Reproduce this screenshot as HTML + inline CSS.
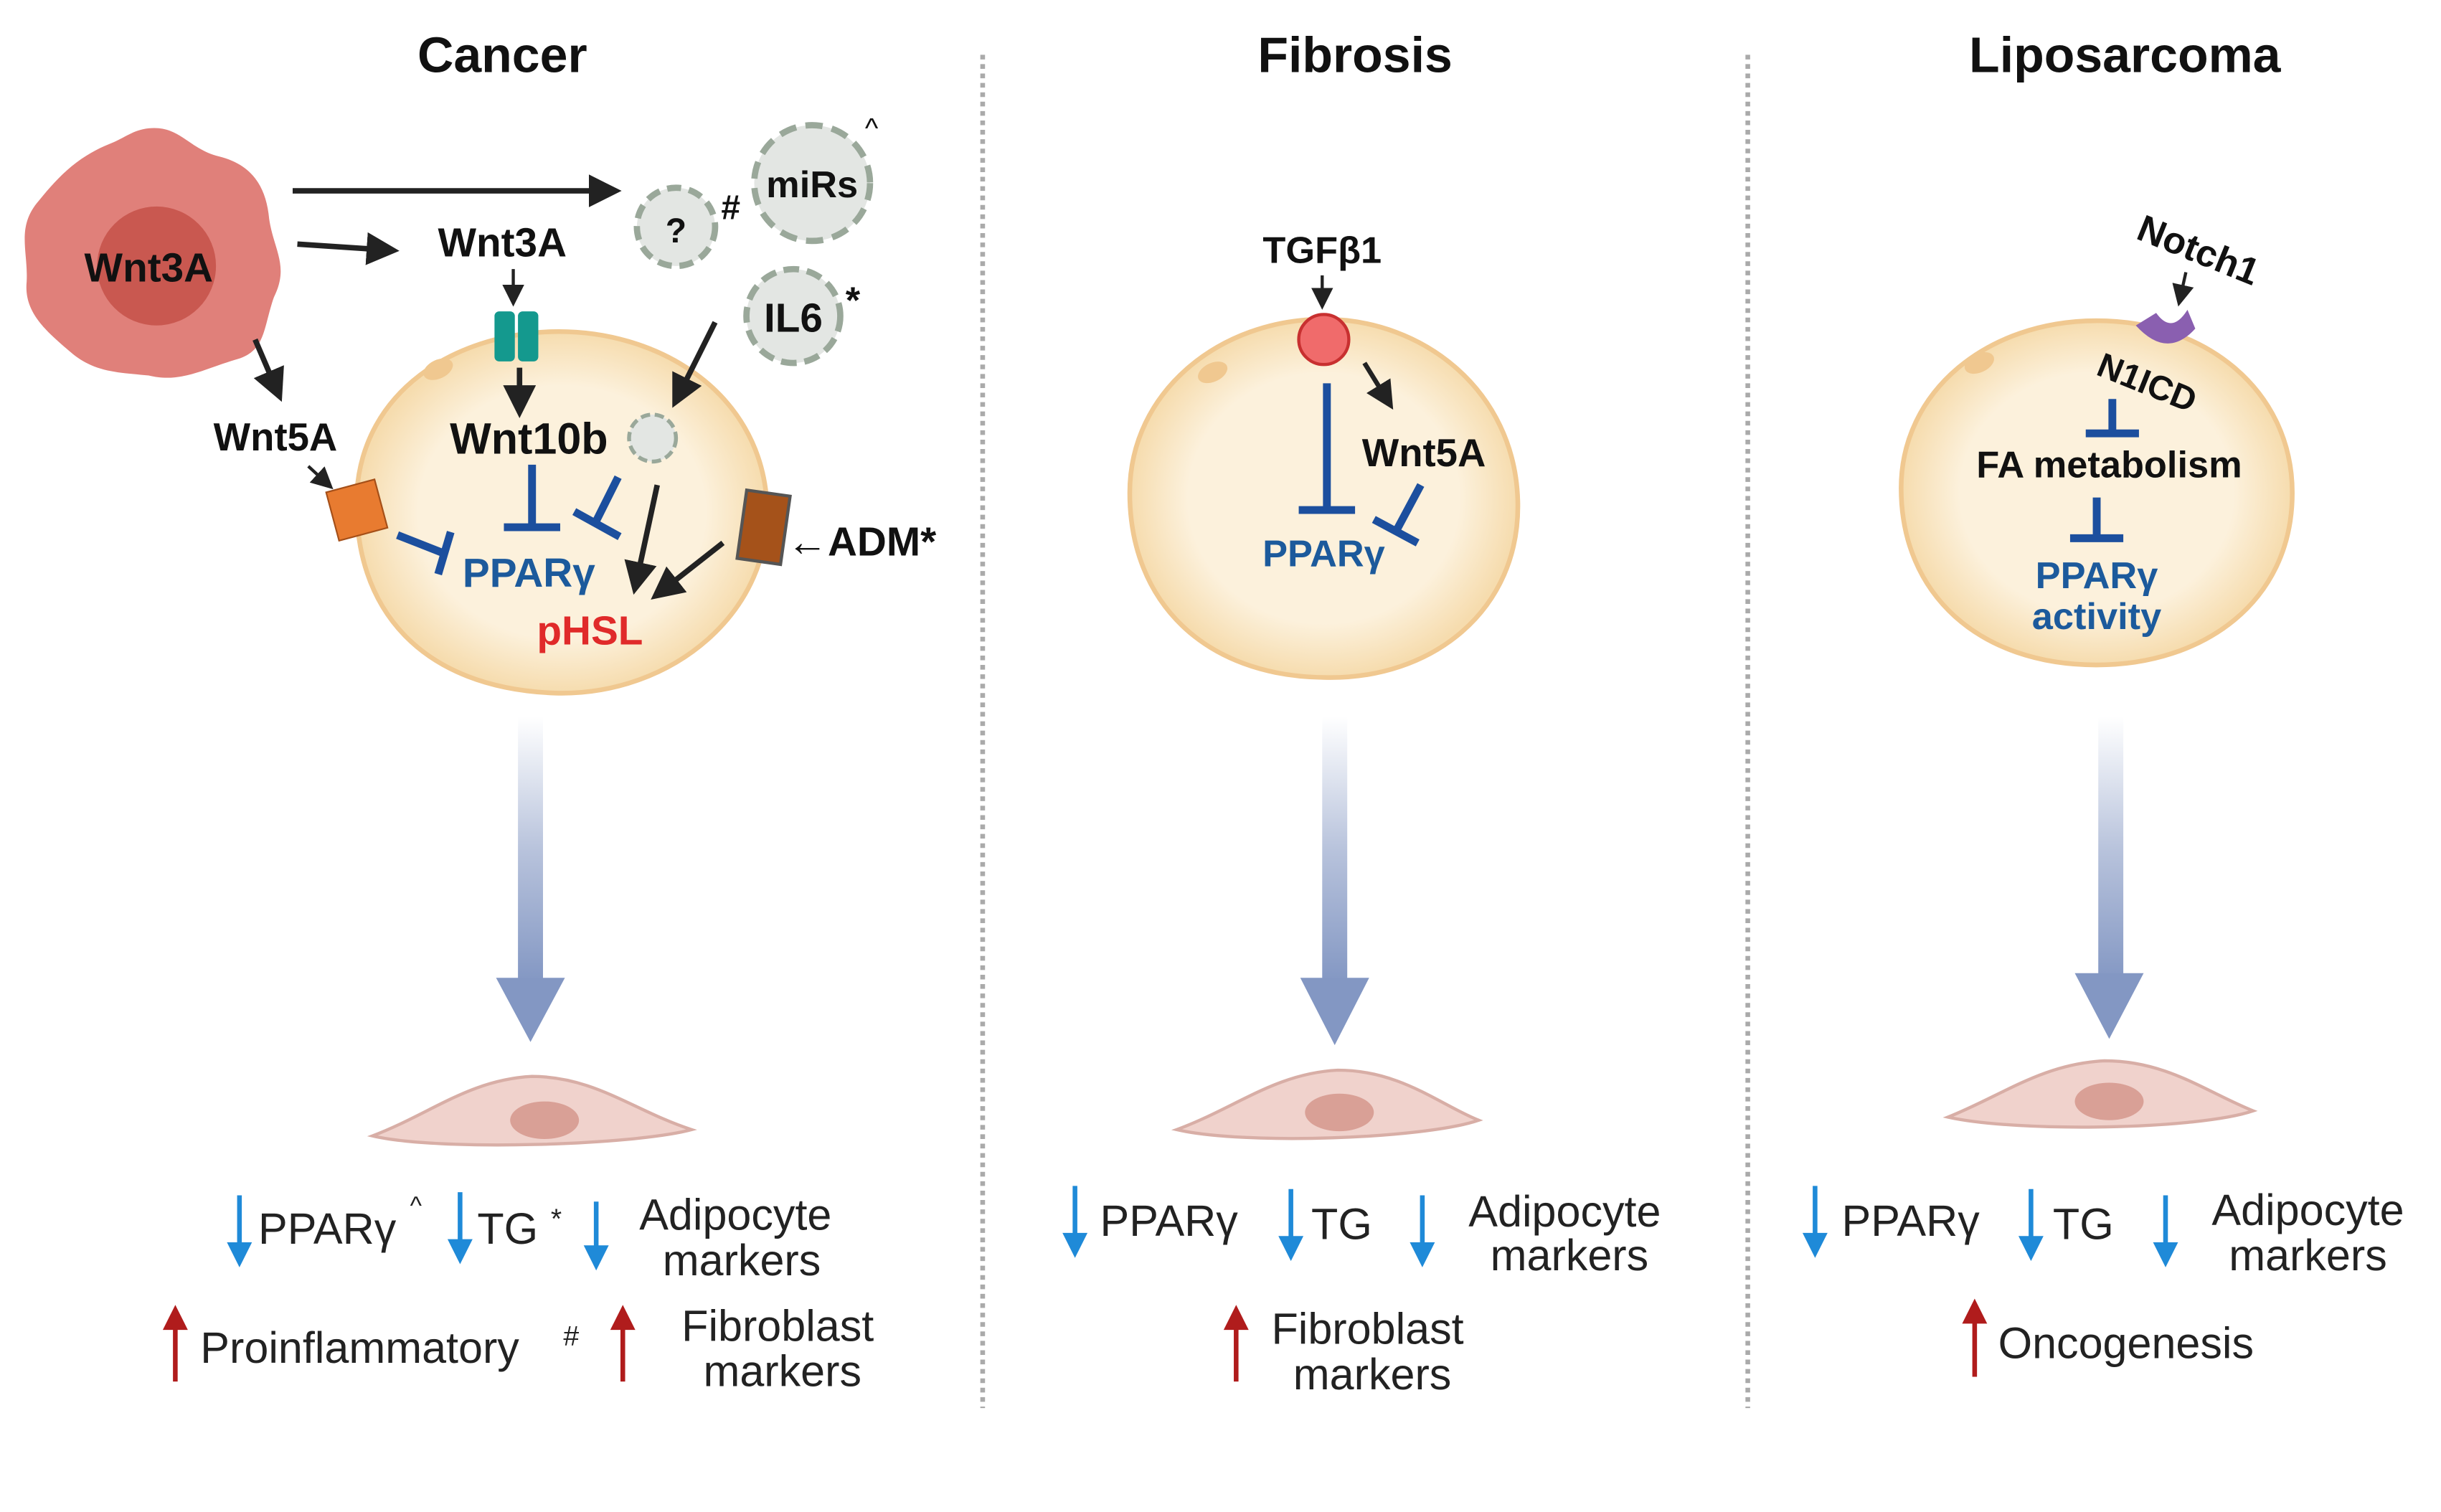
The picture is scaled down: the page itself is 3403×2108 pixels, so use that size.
<!DOCTYPE html>
<html><head><meta charset="utf-8"><style>
html,body{margin:0;padding:0;background:#fff}
svg{display:block}
text{font-family:"Liberation Sans",Arial,sans-serif}
</style></head><body>
<svg width="3403" height="2108" viewBox="0 0 1560 966.4" xmlns="http://www.w3.org/2000/svg">
<defs>
<marker id="ah" markerWidth="6" markerHeight="6" refX="4.5" refY="3" orient="auto" markerUnits="strokeWidth"><path d="M0,0 L6,3 L0,6 z" fill="#222"/></marker>
<marker id="ahs" markerWidth="7" markerHeight="7" refX="5" refY="3.5" orient="auto" markerUnits="strokeWidth"><path d="M0,0 L7,3.5 L0,7 z" fill="#222"/></marker>
<linearGradient id="g" x1="0" y1="0" x2="0" y2="1"><stop offset="0" stop-color="#fff"/><stop offset="0.5" stop-color="#b8c3dc"/><stop offset="1" stop-color="#8397c3"/></linearGradient>
<radialGradient id="cell" cx="0.5" cy="0.5" r="0.5"><stop offset="0.7" stop-color="#fcf1dc"/><stop offset="1" stop-color="#f6dcae"/></radialGradient>
</defs>
<rect width="1560" height="966.4" fill="#fff"/>
<g font-weight="bold" font-size="32" text-anchor="middle" fill="#111">
<text x="321" y="46">Cancer</text><text x="866" y="46">Fibrosis</text><text x="1358" y="46">Liposarcoma</text></g>
<line x1="628" y1="35" x2="628" y2="900" stroke="#aaa" stroke-width="3" stroke-dasharray="3,3"/>
<line x1="1117" y1="35" x2="1117" y2="900" stroke="#aaa" stroke-width="3" stroke-dasharray="3,3"/>

<!-- Cancer -->
<path d="M95,82 C115,80 120,95 140,100 C160,105 170,118 172,140 C175,160 185,170 175,190 C168,210 170,225 150,230 C130,236 115,245 95,240 C75,238 60,238 45,225 C30,212 15,200 17,180 C18,160 10,145 25,128 C38,112 50,100 70,92 C80,88 85,83 95,82z" fill="#e0807a"/>
<circle cx="100" cy="170" r="38" fill="#c95850"/>
<text x="95" y="180" font-size="26" font-weight="bold" text-anchor="middle" fill="#111">Wnt3A</text>
<path d="M352,212 C420,210 485,250 490,320 C495,390 430,445 355,443 C270,440 225,390 228,315 C232,250 290,214 352,212z" fill="url(#cell)" stroke="#f0c890" stroke-width="3"/>
<ellipse cx="280" cy="236" rx="10" ry="6" fill="#f0c890" transform="rotate(-25 280 236)"/>
<g stroke="#222" stroke-width="3.5" fill="none">
<line x1="187" y1="122" x2="392" y2="122" marker-end="url(#ah)"/>
<line x1="190" y1="156" x2="250" y2="160" marker-end="url(#ah)"/>
<line x1="163" y1="217" x2="178" y2="252" marker-end="url(#ah)"/>
<line x1="332" y1="235" x2="332" y2="262" marker-end="url(#ah)"/>
<line x1="457" y1="206" x2="432" y2="256" marker-end="url(#ah)"/>
<line x1="420" y1="310" x2="406" y2="375" marker-end="url(#ah)"/>
<line x1="462" y1="347" x2="420" y2="380" marker-end="url(#ah)"/>
</g>
<g stroke="#222" stroke-width="2" fill="none">
<line x1="328" y1="172" x2="328" y2="192" marker-end="url(#ahs)"/>
<line x1="197" y1="298" x2="210" y2="310" marker-end="url(#ahs)"/>
</g>
<circle cx="432" cy="145" r="25" fill="#e3e6e3" stroke="#9aa89a" stroke-width="4" stroke-dasharray="9,5"/>
<text x="432" y="155" font-size="22" font-weight="bold" text-anchor="middle" fill="#111">?</text>
<text x="467" y="140" font-size="22" font-weight="bold" text-anchor="middle" fill="#111">#</text>
<circle cx="519" cy="117" r="37" fill="#e3e6e3" stroke="#9aa89a" stroke-width="4" stroke-dasharray="11,6"/>
<text x="519" y="126" font-size="24" font-weight="bold" text-anchor="middle" fill="#111">miRs</text>
<text x="557" y="88" font-size="18" text-anchor="middle" fill="#111">^</text>
<circle cx="507" cy="202" r="30" fill="#e3e6e3" stroke="#9aa89a" stroke-width="4" stroke-dasharray="10,5"/>
<text x="507" y="212" font-size="26" font-weight="bold" text-anchor="middle" fill="#111">IL6</text>
<text x="545" y="200" font-size="24" font-weight="bold" text-anchor="middle" fill="#111">*</text>
<circle cx="417" cy="280" r="15" fill="#e3e6e3" stroke="#9aa89a" stroke-width="2.5" stroke-dasharray="6,3"/>
<text x="321" y="164" font-size="26" font-weight="bold" text-anchor="middle" fill="#111">Wnt3A</text>
<rect x="316" y="199" width="13" height="32" rx="3" fill="#14998e"/><rect x="331" y="199" width="13" height="32" rx="3" fill="#14998e"/>
<text x="338" y="290" font-size="28" font-weight="bold" text-anchor="middle" fill="#111">Wnt10b</text>
<text x="176" y="288" font-size="25" font-weight="bold" text-anchor="middle" fill="#111">Wnt5A</text>
<rect x="212" y="310" width="32" height="32" fill="#e87b30" stroke="#a54f18" stroke-width="1" transform="rotate(-15 228 326)"/>
<rect x="474" y="315" width="28" height="44" fill="#a5521a" stroke="#555" stroke-width="2" transform="rotate(8 488 337)"/>
<text x="503" y="355" font-size="26" font-weight="bold" fill="#111">←ADM*</text>
<g stroke="#1c4f9e" stroke-width="5" fill="none">
<line x1="340" y1="297" x2="340" y2="336"/><line x1="322" y1="337" x2="358" y2="337"/>
<line x1="395" y1="305" x2="380" y2="335"/><line x1="367" y1="327" x2="396" y2="343"/>
<line x1="254" y1="342" x2="282" y2="353"/><line x1="288" y1="340" x2="280" y2="367"/>
</g>
<text x="338" y="375" font-size="26" font-weight="bold" text-anchor="middle" fill="#1c5a9c">PPARγ</text>
<text x="377" y="412" font-size="26" font-weight="bold" text-anchor="middle" fill="#e02a2a">pHSL</text>

<!-- Fibrosis -->
<path d="M846,204 C910,204 968,250 970,320 C972,390 915,435 846,433 C770,432 722,385 722,315 C722,250 780,204 846,204z" fill="url(#cell)" stroke="#f0c890" stroke-width="3"/>
<ellipse cx="775" cy="238" rx="10" ry="6" fill="#f0c890" transform="rotate(-25 775 238)"/>
<text x="845" y="168" font-size="24" font-weight="bold" text-anchor="middle" fill="#111">TGFβ1</text>
<line x1="845" y1="176" x2="845" y2="194" stroke="#222" stroke-width="2" marker-end="url(#ahs)"/>
<circle cx="846" cy="217" r="16" fill="#f06b6b" stroke="#c83030" stroke-width="2"/>
<line x1="872" y1="232" x2="888" y2="258" stroke="#222" stroke-width="3" marker-end="url(#ah)"/>
<text x="910" y="298" font-size="25" font-weight="bold" text-anchor="middle" fill="#111">Wnt5A</text>
<g stroke="#1c4f9e" stroke-width="5" fill="none">
<line x1="848" y1="245" x2="848" y2="325"/><line x1="830" y1="326" x2="866" y2="326"/>
<line x1="908" y1="310" x2="893" y2="338"/><line x1="878" y1="332" x2="906" y2="347"/>
</g>
<text x="846" y="362" font-size="24" font-weight="bold" text-anchor="middle" fill="#1c5a9c">PPARγ</text>

<!-- Liposarcoma -->
<path d="M1340,205 C1410,205 1465,250 1465,315 C1465,385 1408,425 1340,425 C1265,425 1215,380 1215,312 C1215,250 1270,205 1340,205z" fill="url(#cell)" stroke="#f0c890" stroke-width="3"/>
<ellipse cx="1265" cy="232" rx="10" ry="6" fill="#f0c890" transform="rotate(-25 1265 232)"/>
<text x="1405" y="168" font-size="24" font-weight="bold" text-anchor="middle" fill="#111" transform="rotate(22 1405 160)">Notch1</text>
<line x1="1397" y1="174" x2="1393" y2="192" stroke="#222" stroke-width="2" marker-end="url(#ahs)"/>
<path d="M1365,208 Q1385,230 1403,210 L1398,198 Q1388,214 1378,200 z" fill="#8a5fb0"/>
<text x="1372" y="252" font-size="22" font-weight="bold" text-anchor="middle" fill="#111" transform="rotate(22 1372 245)">N1ICD</text>
<g stroke="#1c4f9e" stroke-width="5" fill="none">
<line x1="1350" y1="255" x2="1350" y2="276"/><line x1="1333" y1="277" x2="1367" y2="277"/>
<line x1="1340" y1="318" x2="1340" y2="343"/><line x1="1323" y1="344" x2="1357" y2="344"/>
</g>
<text x="1348" y="305" font-size="24" font-weight="bold" text-anchor="middle" fill="#111">FA metabolism</text>
<text x="1340" y="376" font-size="24" font-weight="bold" text-anchor="middle" fill="#1c5a9c">PPARγ</text>
<text x="1340" y="402" font-size="24" font-weight="bold" text-anchor="middle" fill="#1c5a9c">activity</text>

<g fill="url(#g)">
<rect x="331" y="458" width="16" height="170"/><rect x="845" y="458" width="16" height="170"/><rect x="1341" y="458" width="16" height="170"/>
</g>
<g fill="#8397c3">
<path d="M317,625 L361,625 L339,666z"/><path d="M831,625 L875,625 L853,668z"/><path d="M1326,622 L1370,622 L1348,664z"/>
</g>
<g fill="#f0d2cc" stroke="#d8aea6" stroke-width="2">
<path d="M238,726 C275,712 300,690 340,688 C380,688 405,710 442,722 C405,732 280,736 238,726z"/>
<path d="M752,722 C790,708 815,686 855,684 C895,684 920,706 945,716 C910,728 795,732 752,722z"/>
<path d="M1245,714 C1280,700 1305,680 1345,678 C1385,678 1410,698 1440,710 C1405,722 1290,724 1245,714z"/>
</g>
<g fill="#d9a096"><ellipse cx="348" cy="716" rx="22" ry="12"/><ellipse cx="856" cy="711" rx="22" ry="12"/><ellipse cx="1348" cy="704" rx="22" ry="12"/></g>

<g font-size="28" fill="#222">
<text x="165" y="795">PPARγ</text><text x="262" y="776" font-size="16">^</text>
<text x="305" y="795">TG</text><text x="352" y="785" font-size="18">*</text>
<text x="470" y="786" text-anchor="middle">Adipocyte</text><text x="474" y="815" text-anchor="middle">markers</text>
<text x="128" y="871">Proinflammatory</text><text x="360" y="860" font-size="18">#</text>
<text x="497" y="857" text-anchor="middle">Fibroblast</text><text x="500" y="886" text-anchor="middle">markers</text>
<text x="703" y="790">PPARγ</text><text x="838" y="792">TG</text>
<text x="1000" y="784" text-anchor="middle">Adipocyte</text><text x="1003" y="812" text-anchor="middle">markers</text>
<text x="874" y="859" text-anchor="middle">Fibroblast</text><text x="877" y="888" text-anchor="middle">markers</text>
<text x="1177" y="790">PPARγ</text><text x="1312" y="792">TG</text>
<text x="1475" y="783" text-anchor="middle">Adipocyte</text><text x="1475" y="812" text-anchor="middle">markers</text>
<text x="1277" y="868">Oncogenesis</text>
</g>
<g stroke="#1f8ad8" stroke-width="3" fill="none">
<line x1="153" y1="764" x2="153" y2="806"/><line x1="294" y1="762" x2="294" y2="804"/><line x1="381" y1="768" x2="381" y2="808"/>
<line x1="687" y1="758" x2="687" y2="800"/><line x1="825" y1="760" x2="825" y2="802"/><line x1="909" y1="764" x2="909" y2="806"/>
<line x1="1160" y1="758" x2="1160" y2="800"/><line x1="1298" y1="760" x2="1298" y2="802"/><line x1="1384" y1="764" x2="1384" y2="806"/>
</g>
<g fill="#1f8ad8">
<path d="M145,794 L161,794 L153,810z"/><path d="M286,792 L302,792 L294,808z"/><path d="M373,796 L389,796 L381,812z"/>
<path d="M679,788 L695,788 L687,804z"/><path d="M817,790 L833,790 L825,806z"/><path d="M901,794 L917,794 L909,810z"/>
<path d="M1152,788 L1168,788 L1160,804z"/><path d="M1290,790 L1306,790 L1298,806z"/><path d="M1376,794 L1392,794 L1384,810z"/>
</g>
<g stroke="#b01c1c" stroke-width="3"><line x1="112" y1="846" x2="112" y2="883"/><line x1="398" y1="846" x2="398" y2="883"/><line x1="790" y1="846" x2="790" y2="883"/><line x1="1262" y1="842" x2="1262" y2="880"/></g>
<g fill="#b01c1c"><path d="M104,850 L120,850 L112,834z"/><path d="M390,850 L406,850 L398,834z"/><path d="M782,850 L798,850 L790,834z"/><path d="M1254,846 L1270,846 L1262,830z"/></g>
</svg>
</body></html>
